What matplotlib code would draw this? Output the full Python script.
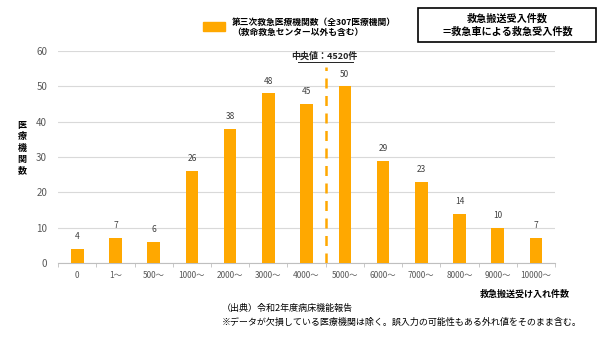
import numpy as np
import matplotlib.pyplot as plt
from matplotlib.patches import Rectangle

plt.rcParams['font.family'] = ['Noto Sans CJK JP', 'DejaVu Sans']

categories = ['0', '1～', '500～', '1000～', '2000～', '3000～', '4000～',
              '5000～', '6000～', '7000～', '8000～', '9000～', '10000～']
counts = [4, 7, 6, 26, 38, 48, 45, 50, 29, 23, 14, 10, 7]
median_pos = 6.52  # 4520件 (between 4000～ and 5000～)

fig = plt.figure(figsize=(6, 3.42), dpi=100)
ax = fig.add_axes([0.097, 0.231, 0.828, 0.62])

x = np.arange(len(categories))
bar_color = '#FFA800'
ax.bar(x, counts, width=0.33, color=bar_color, zorder=3)
for xi, v in zip(x, counts):
    ax.text(xi, v + 2.2, str(v), ha='center', va='bottom', fontsize=6, color='#404040')

ax.set_xlim(-0.5, len(categories) - 0.5)
ax.set_ylim(0, 60)
ax.set_yticks(range(0, 61, 10))
ax.set_xticks(x)
ax.set_xticklabels(categories)
ax.set_xticks(np.arange(-0.5, len(categories), 1), minor=True)
ax.tick_params(axis='x', which='major', length=0, labelsize=6, colors='#595959', pad=6)
ax.tick_params(axis='x', which='minor', length=3, color='#bfbfbf')
ax.tick_params(axis='y', length=0, labelsize=7, colors='#595959', pad=8)
ax.grid(axis='y', color='#d9d9d9', linewidth=0.8, zorder=0)
for s in ['top', 'right', 'left']:
    ax.spines[s].set_visible(False)
ax.spines['bottom'].set_color('#bfbfbf')

# median line
ax.plot([median_pos, median_pos], [0, 55.5], color=bar_color, linestyle=(0, (4, 3)),
        linewidth=1.8, zorder=4)
ax.text(median_pos - 0.05, 57.2, '中央値：4520件', ha='center', va='bottom',
        fontsize=6.5, fontweight='bold', color='#222222')
ax.plot([median_pos - 0.75, median_pos + 0.7], [57.0, 57.0], color='#222222',
        linewidth=0.7, clip_on=False)

# y label stacked vertically
fig.text(0.037, 0.567, '医\n療\n機\n関\n数', ha='center', va='center', fontsize=6.5,
         fontweight='bold', linespacing=1.3)
# x label
fig.text(0.875, 0.14, '救急搬送受け入れ件数', ha='center', va='center', fontsize=6.5,
         fontweight='bold')

# legend
fig.patches.append(Rectangle((203 / 600, 1 - 31 / 342), 22 / 600, 9 / 342,
                             transform=fig.transFigure, color=bar_color))
fig.text(232 / 600, 1 - 27.5 / 342, '第三次救急医療機関数（全307医療機関）\n（救命救急センター以外も含む）',
         ha='left', va='center', multialignment='left', fontsize=6.3, fontweight='bold',
         linespacing=1.25)

# box at top right
fig.patches.append(Rectangle((418 / 600, 1 - 42 / 342), 178 / 600, 34 / 342,
                             transform=fig.transFigure, fill=False, edgecolor='black',
                             linewidth=1.2))
fig.text(507 / 600, 1 - 25 / 342, '救急搬送受入件数\n＝救急車による救急受入件数',
         ha='center', va='center', fontsize=7.3, fontweight='bold', linespacing=1.3)

# footnotes
fig.text(222 / 600, 1 - 308 / 342, '（出典）令和2年度病床機能報告', ha='left', va='center',
         fontsize=6.5)
fig.text(222 / 600, 1 - 322 / 342,
         '※データが欠損している医療機関は除く。誤入力の可能性もある外れ値をそのまま含む。',
         ha='left', va='center', fontsize=6.5)

fig.savefig('out.png', dpi=100)
